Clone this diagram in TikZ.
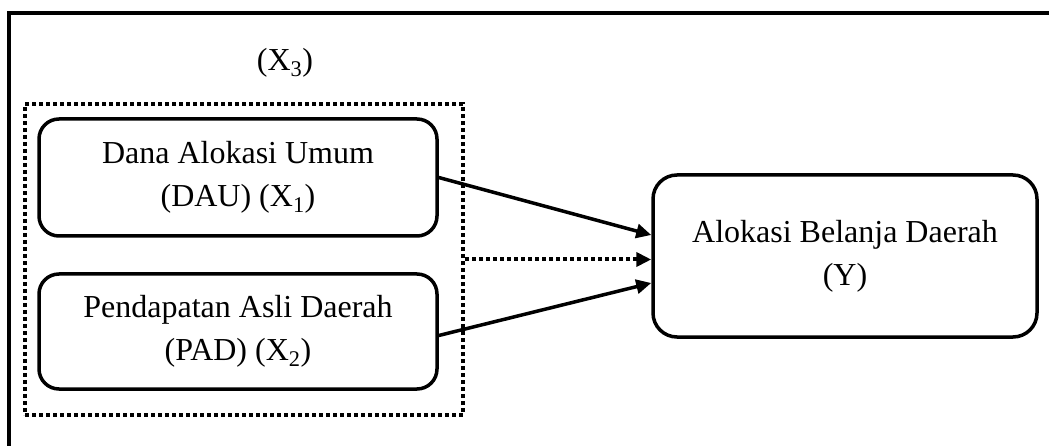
\documentclass[tikz,border=0pt]{standalone}
\usepackage{fontspec}
\setmainfont{Liberation Serif}
\usetikzlibrary{arrows.meta}
\begin{document}
\begin{tikzpicture}[x=1pt,y=-1pt,
  box/.style={draw,line width=3.5pt,rounded corners=20pt,align=center,
    font=\fontsize{32}{43}\selectfont,inner sep=0pt},
  arr/.style={line width=3.5pt,-{Triangle[length=15pt,width=14pt]}},
  dotline/.style={line width=4pt,dash pattern=on 4pt off 3pt}]
\useasboundingbox (0,0) rectangle (1049,446);
\begin{scope}
  \clip (0,0) rectangle (1049,446);
  \draw[line width=4.5pt] (9,13) rectangle (1070,470);
\end{scope}
\node[draw,dotline,minimum width=438pt,minimum height=311pt,inner sep=0pt] (grp) at (244,259.5) {};
\node[font=\fontsize{32}{43}\selectfont] (x3) at (285,63) {(X\textsubscript{3})};
\node[box,minimum width=398pt,minimum height=117pt] (dau) at (238,177.5) {Dana Alokasi Umum\\(DAU) (X\textsubscript{1})};
\node[box,minimum width=398pt,minimum height=115pt] (pad) at (238,331.5) {Pendapatan Asli Daerah\\(PAD) (X\textsubscript{2})};
\node[box,rounded corners=24pt,minimum width=384pt,minimum height=162pt] (y) at (845,256) {Alokasi Belanja Daerah\\(Y)};
\draw[arr] (dau.east) -- ([yshift=21pt]y.west);
\draw[arr] ([yshift=-4pt]pad.east) -- ([yshift=-27pt]y.west);
\draw[arr,dotline] (grp.east) -- (grp.east -| y.west);
\end{tikzpicture}
\end{document}
